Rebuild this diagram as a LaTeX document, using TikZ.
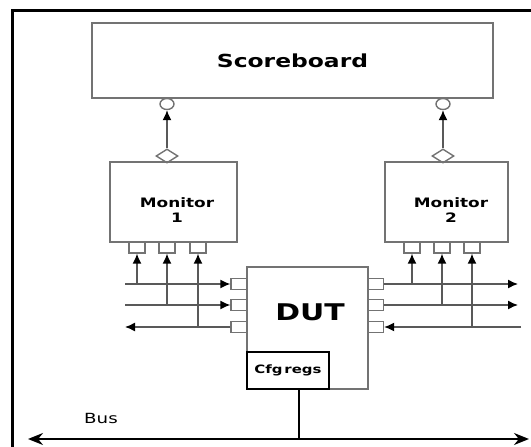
\documentclass[tikz,border=0pt]{standalone}
\usepackage{fontspec}
\setmainfont{DejaVu Sans}[FakeStretch=1.3]
\usetikzlibrary{arrows.meta,shapes.geometric}

\begin{document}
\begin{tikzpicture}[x=1pt,y=-1pt,
    blk/.style={draw=black!55, line width=1.5pt, inner sep=0pt},
    port/.style={draw=black!55, line width=1.3pt, minimum width=16pt, minimum height=11pt, inner sep=0pt},
    wire/.style={draw=black!65, line width=1.4pt},
    tip/.style={-{Latex[length=10pt,width=9pt,black]}}]

\useasboundingbox (0,0) rectangle (531,447);

% outer frame
\draw[line width=3pt] (531,10) -- (12,10) -- (12,447);

% scoreboard and monitors
\node[blk, minimum width=401pt, minimum height=75pt, font=\bfseries\fontsize{18}{21}\selectfont] (sb) at (292.5,60.5) {Scoreboard};

\node[blk, minimum width=127pt, minimum height=80pt] (mon1) at (173.5,202) {};
\node[blk, minimum width=123pt, minimum height=80pt] (mon2) at (446.5,202) {};
\node[align=center, font=\bfseries\fontsize{13}{15}\selectfont] (mon1txt) at (177,210) {Monitor\\1};
\node[align=center, font=\bfseries\fontsize{13}{15}\selectfont] (mon2txt) at (451,210) {Monitor\\2};

\foreach \n/\x in {1/167,2/443}{
    \node[ellipse, draw=black!55, line width=1.4pt, minimum width=14pt, minimum height=11pt, inner sep=0pt] (c\n) at (\x,104) {};
    \node[diamond, draw=black!55, line width=1.4pt, minimum width=22pt, minimum height=14pt, inner sep=0pt] (d\n) at (\x,156) {};
    \draw[wire,tip] (d\n.north) -- (c\n.south);
}

% monitor ports
\foreach \n/\x in {11/137,12/167,13/198,21/412,22/442,23/472}{
    \node[port] (mp\n) at (\x,247.5) {};
}

% DUT
\node[blk, minimum width=121pt, minimum height=122pt] (dut) at (307.5,328) {};
\node[font=\bfseries\fontsize{23}{27}\selectfont] (duttxt) at (310,312) {DUT};
\node[draw=black, line width=2.2pt, minimum width=82pt, minimum height=37pt, inner sep=0pt, font=\bfseries\fontsize{11.5}{14}\selectfont] (cfg) at (288,370.5) {Cfg\,regs};

\foreach \n/\y in {1/284,2/305,3/327}{
    \node[port] (pl\n) at (239,\y) {};
    \node[port] (pr\n) at (375.5,\y) {};
    \coordinate (l\n) at (125,\y);
}
\coordinate (r1) at (518,284);
\coordinate (r2) at (518,305);
\coordinate (r3) at (521,327);

% left side signals
\draw[wire,tip] (l1) -- (pl1.west);
\draw[wire,tip] (l2) -- (pl2.west);
\draw[wire,tip] (pl3.west) -- (l3);
\draw[wire,tip] (mp11.south |- pl1) -- (mp11.south);
\draw[wire,tip] (mp12.south |- pl2) -- (mp12.south);
\draw[wire,tip] (mp13.south |- pl3) -- (mp13.south);

% right side signals
\draw[wire,tip] (pr1.east) -- (r1);
\draw[wire,tip] (pr2.east) -- (r2);
\draw[wire,tip] (r3) -- (pr3.east);
\draw[wire,tip] (mp21.south |- pr1) -- (mp21.south);
\draw[wire,tip] (mp22.south |- pr2) -- (mp22.south);
\draw[wire,tip] (mp23.south |- pr3) -- (mp23.south);

% bus
\coordinate (bl) at (28,439);
\coordinate (br) at (529,439);
\draw[line width=2pt, {Stealth[length=15pt,width=12pt]}-{Stealth[length=15pt,width=12pt]}] (bl) -- (br);
\draw[line width=2.2pt] ([xshift=11pt]cfg.south) -- ([xshift=11pt]cfg.south |- bl);
\node[font=\fontsize{14}{17}\selectfont] (bus) at (101,418) {Bus};

\end{tikzpicture}
\end{document}
